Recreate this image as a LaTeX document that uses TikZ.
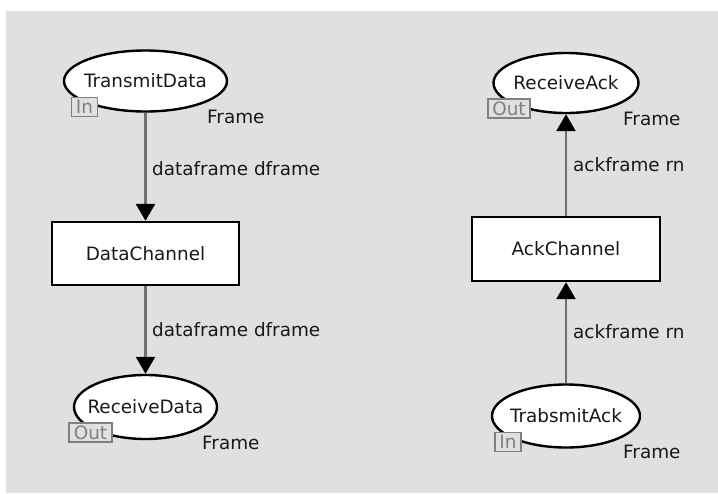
\documentclass[tikz,border=0pt]{standalone}
\usepackage{fontspec}
\setmainfont{DejaVu Sans}
\usetikzlibrary{shapes.geometric,arrows.meta}
\definecolor{canvas}{RGB}{224,224,224}
\definecolor{arcgray}{RGB}{112,112,112}
\definecolor{portgray}{RGB}{128,128,128}
% zero-width text so the ellipse size comes from minimum width/height only
\newcommand\pname[1]{\makebox[0pt]{#1}}
\tikzset{
  txt/.style={font=\fontsize{18.4}{22}\selectfont, text=black!90},
  place/.style={txt, ellipse, draw=black, line width=2.4pt, fill=white, inner sep=0pt},
  trans/.style={txt, rectangle, draw=black, line width=2.4pt, fill=white, inner sep=0pt},
  port/.style={txt, text=portgray, rectangle, draw=portgray, line width=1.8pt, fill=canvas,
    inner xsep=4.5pt, inner ysep=1.5pt, minimum height=19pt},
  arc/.style={draw=arcgray, line width=2.6pt, -{Triangle[width=19pt,length=17pt,color=black]}},
  lbl/.style={txt, anchor=base west, inner sep=0pt}
}
\begin{document}
\begin{tikzpicture}[x=1pt,y=-1pt]
  \useasboundingbox (0,0) rectangle (718,493);
  \fill[white] (0,0) rectangle (718,493);
  \fill[canvas] (6,11) rectangle (718,493);

  % data direction
  \node[place, minimum width=163pt, minimum height=61pt] (TD) at (145.5,81) {\pname{TransmitData}};
  \node[trans, minimum width=187pt, minimum height=63pt] (DC) at (145.5,253.5) {DataChannel};
  \node[place, minimum width=143pt, minimum height=64pt] (RD) at (145.5,407) {\pname{ReceiveData}};

  % acknowledgement direction
  \node[place, minimum width=145pt, minimum height=60pt] (RA) at (566,83) {\pname{ReceiveAck}};
  \node[trans, minimum width=188pt, minimum height=64pt] (AC) at (566,249) {AckChannel};
  \node[place, minimum width=148pt, minimum height=63pt] (TA) at (566,416) {\pname{TrabsmitAck}};

  % port tags
  \node[port] (TDp) at (84.5,107) {In};
  \node[port] (RDp) at (90.5,432.5) {Out};
  \node[port] (RAp) at (509,108.5) {Out};
  \node[port] (TAp) at (508,442) {In};

  % colour sets
  \node[lbl] (TDt) at (207,123) {Frame};
  \node[lbl] (RDt) at (202,449) {Frame};
  \node[lbl] (RAt) at (623,125) {Frame};
  \node[lbl] (TAt) at (623,458) {Frame};

  % arcs
  \draw[arc] (TD.south) -- (DC.north);
  \draw[arc] (DC.south) -- (RD.north);
  \draw[arc] (AC.north) -- (RA.south);
  \draw[arc] (TA.north) -- (AC.south);

  % arc inscriptions
  \node[lbl] (a1) at (152,175) {dataframe dframe};
  \node[lbl] (a2) at (152,336) {dataframe dframe};
  \node[lbl] (a3) at (573,171) {ackframe rn};
  \node[lbl] (a4) at (573,338) {ackframe rn};
\end{tikzpicture}
\end{document}
